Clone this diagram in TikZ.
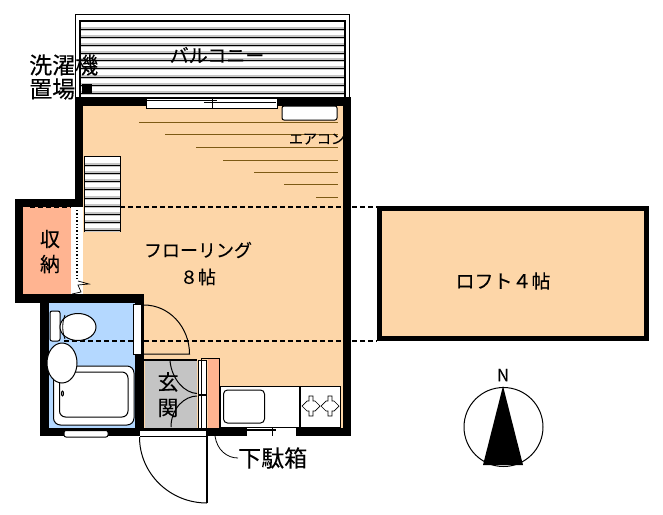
\documentclass[tikz,border=0pt]{standalone}
\usepackage{fontspec}
\setmainfont{Noto Sans CJK JP}
\definecolor{floortan}{RGB}{253,214,168}
\definecolor{closetpink}{RGB}{255,180,145}
\definecolor{bathblue}{RGB}{180,216,255}
\definecolor{hallgray}{RGB}{196,196,196}
\definecolor{linebrown}{RGB}{125,90,20}
\tikzset{
    wall/.style={fill=black,draw=none},
    fixture/.style={draw=black,fill=white,line width=1pt},
    slat/.style={gray!45,line width=3.4pt},
    slatcore/.style={black,line width=1pt},
    hidden/.style={black,line width=1.3pt,dash pattern=on 5pt off 3pt},
    swing/.style={black,line width=1pt},
    floorline/.style={linebrown,line width=0.9pt},
    label/.style={inner sep=0pt,font=\fontsize{#1}{#1}\selectfont\addfontfeature{FakeBold=0.2},black}
}
\begin{document}
\begin{tikzpicture}[x=1pt,y=-1pt]
\useasboundingbox (0,0) rectangle (663,514);
% balcony
\draw[black,line width=1pt,fill=white] (75.5,14.5) -- (349.5,14.5) -- (349.5,98) -- (75.5,98) -- cycle;
\foreach \y in {29,37,45,53,60,68,77,85,93}{
    \draw[slat] (81,\y) -- (344,\y);
    \draw[slatcore] (81,\y) -- (344,\y);
}
\draw[black,line width=2pt] (80,97) -- (80,21) -- (345,21) -- (345,97);
% floors
\fill[floortan] (83,106) rectangle (343,428);
\fill[closetpink] (23,207) rectangle (71,294);
\fill[white] (71,207) rectangle (83,294);
\fill[bathblue] (49,302) rectangle (135,430);
\fill[hallgray] (145,361) rectangle (197,428);
% walls
\fill[wall] (75,97) rectangle (351,106);
\fill[wall] (75,97) rectangle (83,207);
\fill[wall] (343,97) rectangle (351,436);
\fill[wall] (15,199) rectangle (83,207);
\fill[wall] (15,199) rectangle (23,303);
\fill[wall] (15,294) rectangle (143,303);
\fill[wall] (40,294) rectangle (49,436);
\fill[wall] (135,294) rectangle (144,436);
\fill[wall] (40,428) rectangle (351,436);
\fill[wall] (144,359) rectangle (197,361);
% loft
\draw[black,line width=5pt,fill=floortan] (379.5,208.5) rectangle (646.5,338.5);
% top window and air conditioner
\draw[fixture] (146,98) rectangle (277,108);
\draw[black,line width=1.3pt] (147,100.5) -- (217,100.5) (204,102.5) -- (276,102.5);
\draw[black,line width=0.8pt] (212,98) -- (212,108);
\draw[fixture,rounded corners=2pt] (282,106) rectangle (337,120);
% floor lines
\foreach \x/\y in {139/122.5,165/134.5,196/147,223/160,254/172,284/184,316/197}
    \draw[floorline] (\x,\y) -- (338,\y);
% stairs
\fill[white] (84,156) rectangle (120,232);
\foreach \y in {165,173,181,189,198,206,214,222,230}{
    \draw[slat] (85,\y) -- (120,\y);
    \draw[slatcore] (85,\y) -- (120,\y);
}
\draw[black,line width=1pt] (84.5,232) -- (84.5,156.5) -- (120.5,156.5) -- (120.5,232);
% hidden edges
\draw[hidden] (120,207) -- (377,207);
\draw[hidden] (30,207) -- (71,207);
\draw[hidden] (64,341) -- (377,341);
% closet door
\draw[black,line width=1.4pt,dotted] (77,210) -- (77,281);
\draw[black,line width=0.7pt] (72,294) -- (81,292) -- (78,285) -- (89,284) -- (78,281);
% toilet
\draw[fixture,rounded corners=2pt] (50,311) rectangle (60,341);
\draw[fixture] (78,327) ellipse[x radius=18,y radius=13.5];
\draw[black,line width=0.8pt] (65,315) .. controls (62,322) and (62,332) .. (65,339);
% wash basin and bath tub
\draw[fixture,rounded corners=7pt] (53.5,366) rectangle (134,425);
\draw[fixture,rounded corners=6pt] (59.5,372) rectangle (128,417);
\draw[fixture] (62.5,393.5) ellipse[x radius=1,y radius=2.5];
\draw[fixture] (62,363) ellipse[x radius=15,y radius=20];
\draw[fixture,rounded corners=2pt] (64,430.5) rectangle (108,437);
% bath door
\draw[fixture] (133.5,304) rectangle (141,354);
\draw[swing] (144,305) arc[start angle=-90,end angle=0,x radius=45.5,y radius=49] -- (144,354);
% entrance
\draw[fixture] (198,360) rectangle (206,428);
\draw[black,line width=1.4pt] (198,395) -- (206,395);
\draw[swing] (170,361) .. controls (172,380) and (185,393) .. (197,393.5);
\draw[swing] (197,396) .. controls (185,396) and (171,408) .. (171,427);
\draw[black,line width=0.8pt] (201,358.5) rectangle (219.5,428);
\fill[closetpink] (208,359) rectangle (219,428);
% kitchen
\draw[fixture] (220.5,386) rectangle (299.5,427);
\draw[fixture,rounded corners=4pt] (223.5,390) rectangle (264.5,423);
\draw[fixture] (300,386) rectangle (340,427);
\foreach \x in {311,330}{
    \draw[black,line width=0.7pt] (\x-9,406) -- (\x-4,401) -- (\x-2,401) -- (\x-2,396) -- (\x+2,396) -- (\x+2,401) -- (\x+4,401) -- (\x+9,406) -- (\x+4,411) -- (\x+2,411) -- (\x+2,416) -- (\x-2,416) -- (\x-2,411) -- (\x-4,411) -- cycle;
}
% bottom window and door
\fill[white] (247,427) rectangle (296,436);
\draw[black,line width=0.8pt] (247,427.5) -- (296,427.5) (272,427) -- (272,436);
\draw[black,line width=1.2pt] (247,430) -- (276,430);
\fill[white] (140,431) rectangle (207,436);
\draw[black,line width=1.4pt] (140,436.5) -- (207,436.5);
\draw[black,line width=1.6pt] (207,430) -- (207,503);
\draw[swing] (139.5,437) arc[start angle=180,end angle=90,x radius=67.5,y radius=66] -- (207,503);
% washer
\fill[black] (82,84) rectangle (92,93);
% compass
\node[draw=black,line width=1pt,circle,minimum size=79pt,inner sep=0pt] (compass) at (503.5,427) {};
\fill[black] (503,386) -- (523,465) -- (483,465) -- cycle;
\node[label=17] (north) at (503,375) {N};
% texts
\node[label=19] (balcony) at (217,55) {バルコニー};
\node[label=23,anchor=west] (washtop) at (29,65) {洗濯機};
\node[label=23,anchor=west] (washbot) at (29,89) {置場};
\node[label=14] (aircon) at (317,139) {エアコン};
\node[label=18] (flooring) at (198,250) {フローリング};
\node[label=18] (eight) at (198,277) {８帖};
\node[label=20] (closeta) at (50,239) {収};
\node[label=20] (closetb) at (50,264) {納};
\node[label=21] (halla) at (168,382) {玄};
\node[label=21] (hallb) at (168,408) {関};
\node[label=19] (loft) at (503,281) {ロフト４帖};
\node[label=23,anchor=west] (shoes) at (238,458) {下駄箱};
\coordinate (shoefoot) at (215,436);
\draw[black,line width=0.8pt] (shoefoot) .. controls (217,450) and (227,458) .. (shoes.west);
\end{tikzpicture}
\end{document}
